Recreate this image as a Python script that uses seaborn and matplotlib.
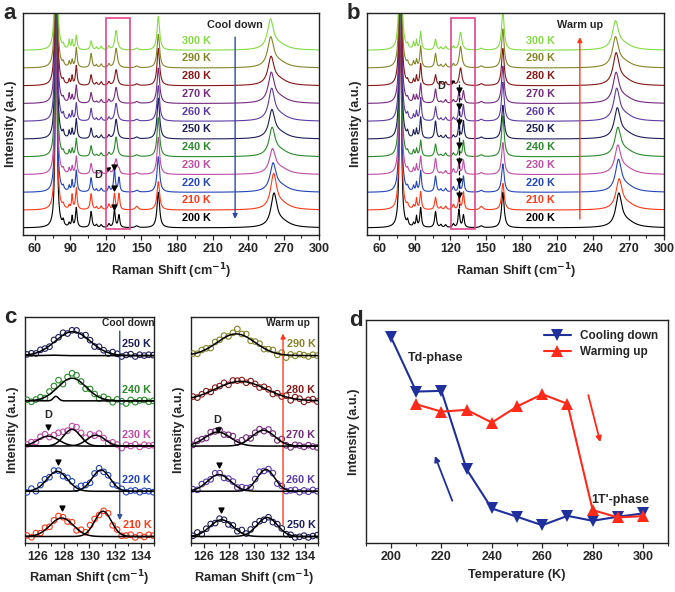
import numpy as np
import pandas as pd
import matplotlib.pyplot as plt
import seaborn as sns
from matplotlib.patches import Rectangle
from matplotlib.ticker import MultipleLocator

sns.set_style("ticks")
plt.rcParams['font.family'] = ['Liberation Sans', 'DejaVu Sans']
plt.rcParams['font.weight'] = 'bold'
plt.rcParams['axes.labelweight'] = 'bold'
plt.rcParams['axes.linewidth'] = 1.0

# ---- data ----
temps = [200, 210, 220, 230, 240, 250, 260, 270, 280, 290, 300]
temp_colors = ['#000000', '#ff3a1a', '#2446b8', '#c04ca6', '#2c8a2c', '#1e1e58',
               '#5b3ca6', '#762a7e', '#861818', '#85852a', '#84dc44']

# Raman modes (cm-1) and half widths
raman_peaks = [78.0, 84.0, 89.0, 91.5, 95.0, 107.5, 112.0, 116.0, 122.5, 127.2, 128.6, 131.0, 146.0, 164.2]
peak_hwhm = [0.8, 0.7, 0.6, 0.6, 0.8, 0.9, 0.8, 0.9, 0.9, 0.8, 1.3, 0.8, 1.5, 1.3]

# peak heights per temperature (a: cool down)
amps_cool = [
    [14, 0.3, 0.2, 0.6, 1.1, 0.9, 0.15, 0.15, 0.2, 1.0, 0.0, 0.7, 0.1, 2.0],
    [14, 0.2, 0.2, 0.8, 1.2, 0.9, 0.15, 0.2, 0.3, 0.9, 0.0, 0.9, 0.2, 1.6],
    [14, 0.2, 0.3, 0.6, 1.2, 0.8, 0.15, 0.2, 0.3, 1.3, 0.0, 0.8, 0.1, 2.0],
    [14, 0.2, 0.3, 0.4, 1.0, 0.6, 0.1, 0.2, 0.3, 0.2, 0.8, 0.2, 0.1, 2.1],
    [14, 0.2, 0.3, 0.4, 1.0, 0.6, 0.1, 0.2, 0.2, 0.0, 1.1, 0.0, 0.1, 2.2],
    [14, 0.3, 0.4, 0.5, 1.1, 0.6, 0.15, 0.2, 0.2, 0.0, 1.1, 0.0, 0.1, 2.3],
    [14, 0.3, 0.3, 0.5, 1.0, 0.7, 0.15, 0.2, 0.2, 0.0, 1.0, 0.0, 0.1, 2.0],
    [14, 0.2, 0.5, 0.4, 1.0, 0.6, 0.1, 0.2, 0.2, 0.0, 0.9, 0.0, 0.1, 2.0],
    [14, 0.2, 0.3, 0.5, 1.1, 0.6, 0.15, 0.2, 0.2, 0.0, 0.9, 0.0, 0.1, 2.1],
    [14, 0.2, 0.3, 0.4, 1.1, 0.8, 0.15, 0.2, 0.2, 0.0, 1.1, 0.0, 0.1, 1.9],
    [14, 0.2, 0.5, 0.5, 0.8, 0.5, 0.15, 0.2, 0.2, 0.0, 1.1, 0.0, 0.1, 1.9],
]
band_center_cool = [261.8, 261.5, 261.0, 260.5, 260.2, 260.0, 259.8, 259.5, 259.3, 259.0, 258.8]
band_amp_cool = [1.8, 1.9, 1.5, 1.3, 1.5, 1.5, 1.7, 1.6, 1.5, 1.6, 1.6]

# peak heights per temperature (b: warm up)
amps_warm = [
    [14, 0.3, 0.2, 0.6, 1.1, 0.9, 0.15, 0.15, 0.2, 1.0, 0.0, 0.7, 0.1, 2.0],
    [14, 0.2, 0.2, 0.6, 1.0, 0.7, 0.15, 0.2, 0.3, 0.7, 0.0, 1.0, 0.2, 1.5],
    [14, 0.2, 0.3, 0.5, 1.2, 0.9, 0.15, 0.2, 0.3, 0.5, 0.0, 0.9, 0.1, 1.6],
    [14, 0.2, 0.3, 0.5, 1.0, 0.9, 0.1, 0.2, 0.3, 0.6, 0.0, 0.8, 0.1, 1.8],
    [14, 0.2, 0.3, 0.4, 0.9, 0.7, 0.1, 0.2, 0.2, 0.5, 0.0, 0.9, 0.1, 2.3],
    [14, 0.3, 0.4, 0.5, 1.2, 1.0, 0.15, 0.2, 0.2, 0.8, 0.0, 1.0, 0.1, 1.9],
    [14, 0.3, 0.3, 0.5, 1.3, 0.8, 0.15, 0.2, 0.2, 0.7, 0.0, 0.9, 0.1, 2.2],
    [14, 0.2, 0.4, 0.4, 1.1, 0.8, 0.1, 0.2, 0.2, 0.6, 0.0, 0.7, 0.1, 2.1],
    [14, 0.2, 0.3, 0.5, 1.2, 0.6, 0.15, 0.2, 0.2, 0.0, 1.0, 0.0, 0.1, 2.1],
    [14, 0.2, 0.3, 0.4, 1.2, 0.8, 0.15, 0.2, 0.2, 0.0, 1.2, 0.0, 0.1, 2.2],
    [14, 0.2, 0.4, 0.5, 1.0, 0.6, 0.15, 0.2, 0.2, 0.0, 1.0, 0.0, 0.1, 2.2],
]
band_center_warm = [261.8, 262.0, 261.5, 261.0, 261.0, 260.5, 260.0, 259.5, 259.5, 259.0, 259.0]
band_amp_warm = [1.8, 1.6, 1.7, 1.5, 1.5, 1.6, 1.7, 1.6, 1.7, 1.6, 1.5]

# panel c: gaussian components (center, height, sigma) and scatter residuals
c_cool_temps = [210, 220, 230, 240, 250]
c_cool_colors = ['#ff3a1a', '#2446b8', '#c04ca6', '#2c8a2c', '#1e1e58']
c_cool_fits = [
    [(127.85, 0.41, 0.9), (131.05, 0.56, 0.65)],
    [(127.5, 0.44, 0.8), (130.9, 0.47, 0.7)],
    [(126.8, 0.22, 0.8), (128.65, 0.37, 0.65), (130.5, 0.24, 0.7)],
    [(127.4, 0.10, 0.2), (128.65, 0.50, 1.1)],
    [(127.0, 0.01, 0.5), (128.7, 0.53, 1.35)],
]
c_cool_resid = [
    [0.02, -0.03, 0.04, 0.00, 0.05, -0.02, 0.03, 0.06, 0.02, -0.03, 0.04, -0.05, 0.03, -0.02, 0.06,
     0.04, -0.03, 0.01, 0.05, -0.04, 0.02, -0.03, 0.01, 0.04, -0.02, 0.03, -0.01, 0.04, 0.02],
    [-0.03, 0.04, -0.05, 0.02, 0.05, -0.02, 0.04, 0.02, -0.04, 0.03, 0.06, -0.03, 0.05, 0.02, -0.04,
     0.03, 0.05, -0.02, 0.01, -0.05, 0.03, 0.02, -0.03, 0.01, 0.02, -0.02, 0.01, 0.00, -0.02],
    [0.01, 0.03, -0.02, 0.04, 0.05, -0.03, 0.02, 0.06, 0.03, -0.02, 0.05, 0.07, 0.02, -0.04, 0.03,
     -0.02, 0.05, 0.01, -0.03, 0.04, 0.02, -0.05, 0.03, 0.00, 0.04, -0.02, 0.03, 0.01, 0.02],
    [0.02, -0.03, 0.01, 0.04, -0.02, 0.06, 0.03, 0.08, -0.04, 0.05, 0.11, 0.09, 0.02, -0.05, 0.04,
     0.01, -0.03, 0.05, 0.02, -0.04, 0.03, -0.01, -0.06, 0.02, -0.03, 0.01, 0.02, -0.02, 0.00],
    [0.01, 0.02, -0.01, 0.03, 0.00, -0.03, 0.04, 0.02, 0.05, -0.02, 0.03, 0.04, -0.03, 0.05, 0.02,
     -0.04, 0.03, 0.01, -0.02, 0.04, 0.02, -0.03, 0.01, 0.03, -0.02, 0.02, 0.00, 0.02, 0.01],
]
c_warm_temps = [250, 260, 270, 280, 290]
c_warm_colors = ['#1e1e58', '#5b3ca6', '#762a7e', '#861818', '#85852a']
c_warm_fits = [
    [(127.4, 0.37, 0.9), (131.0, 0.42, 0.8)],
    [(127.2, 0.37, 0.9), (130.9, 0.48, 0.7)],
    [(127.1, 0.31, 1.0), (130.7, 0.35, 0.9)],
    [(128.9, 0.43, 2.0)],
    [(128.55, 0.48, 1.5)],
]
c_warm_resid = [
    [0.00, 0.05, -0.03, 0.02, 0.04, -0.02, 0.03, 0.01, -0.04, 0.02, -0.03, 0.05, -0.02, 0.03, 0.06,
     0.02, -0.03, 0.01, -0.04, 0.02, 0.03, -0.02, 0.01, -0.03, -0.01, 0.02, -0.02, 0.01, 0.03],
    [0.02, -0.03, 0.04, 0.01, -0.02, 0.05, 0.03, -0.04, 0.02, 0.04, -0.02, 0.03, 0.01, -0.03, 0.04,
     0.06, -0.02, 0.03, 0.05, -0.04, 0.02, -0.03, 0.01, 0.03, -0.02, 0.02, -0.01, 0.03, 0.00],
    [-0.02, 0.03, 0.01, -0.03, 0.04, 0.02, 0.05, -0.02, 0.03, 0.06, -0.04, 0.02, 0.05, -0.03, 0.02,
     0.04, -0.02, 0.05, 0.03, -0.04, 0.06, -0.03, -0.05, 0.02, 0.01, -0.02, 0.02, -0.01, -0.03],
    [0.02, -0.03, 0.01, 0.04, -0.02, 0.03, 0.02, 0.05, -0.03, 0.04, 0.02, 0.03, -0.02, 0.04, 0.01,
     -0.03, 0.03, 0.02, -0.04, 0.02, -0.02, 0.03, -0.05, 0.04, 0.02, -0.04, 0.01, 0.03, -0.02],
    [0.01, -0.02, 0.03, 0.02, -0.03, 0.04, 0.02, 0.05, -0.02, 0.03, 0.11, 0.02, 0.06, -0.03, 0.02,
     0.04, -0.02, 0.03, 0.05, -0.03, 0.04, -0.06, 0.02, -0.01, 0.03, 0.01, -0.02, 0.02, 0.00],
]

# panel d: D-mode intensity vs temperature
cool_T = [200, 210, 220, 230, 240, 250, 260, 270, 280, 290, 300]
cool_I = [92.1, 67.8, 68.1, 32.9, 15.4, 11.7, 7.9, 12.1, 9.9, 11.7, 13.2]
warm_T = [210, 220, 230, 240, 250, 260, 270, 280, 290, 300]
warm_I = [62.1, 58.8, 59.6, 53.9, 61.1, 66.6, 62.3, 14.7, 11.4, 12.0]

BLUE = '#1f2f9c'
RED = '#ff2a1a'
PINK = '#e0478f'


def lorentz(x, c, w, a):
    return a * w ** 2 / ((x - c) ** 2 + w ** 2)


def gauss(x, c, a, s):
    return a * np.exp(-(x - c) ** 2 / (2 * s ** 2))


xs = np.linspace(50, 300, 2500)


def spectra_frame(amps, band_c, band_a):
    frames = []
    for i, T in enumerate(temps):
        y = np.full_like(xs, float(i))
        for c, w, a in zip(raman_peaks, peak_hwhm, amps[i]):
            y += lorentz(xs, c, w, a)
        y += lorentz(xs, band_c[i], 3.0, band_a[i]) + lorentz(xs, band_c[i] + 7, 8.0, 0.3)
        frames.append(pd.DataFrame({'shift': xs, 'intensity': y, 'T': T}))
    return pd.concat(frames, ignore_index=True)


def style_axis(ax, major, minor):
    ax.xaxis.set_major_locator(MultipleLocator(major))
    ax.xaxis.set_minor_locator(MultipleLocator(minor))
    ax.tick_params(axis='x', which='major', direction='out', length=3.5, width=0.9, labelsize=9, pad=2.5)
    ax.tick_params(axis='x', which='minor', direction='out', length=2, width=0.8)
    ax.set_yticks([])
    for s in ax.spines.values():
        s.set_visible(True)
        s.set_color('#222222')


fig = plt.figure(figsize=(6.75, 5.92), dpi=100)
palette = dict(zip(temps, temp_colors))

# ---- panels a and b ----
spec_axes = [fig.add_axes([0.034, 0.603, 0.439, 0.375]), fig.add_axes([0.544, 0.603, 0.440, 0.375])]
spec_sets = [(amps_cool, band_center_cool, band_amp_cool), (amps_warm, band_center_warm, band_amp_warm)]
for ax, (amps, bc, ba) in zip(spec_axes, spec_sets):
    df = spectra_frame(amps, bc, ba)
    sns.lineplot(data=df, x='shift', y='intensity', hue='T', palette=palette, estimator=None,
                 sort=False, legend=False, lw=0.8, ax=ax)
    ax.set_xlim(50, 300)
    ax.set_ylim(-0.4, 12.1)
    style_axis(ax, 30, 15)
    ax.set_xlabel('Raman Shift (cm$^{\\mathbf{-1}}$)', fontsize=9.2, labelpad=4)
    ax.set_ylabel('Intensity (a.u.)', fontsize=9.2, labelpad=4)
    ax.add_patch(Rectangle((120.2, -0.06), 20.2, 11.86, fill=False, ec=PINK, lw=1.2, zorder=5))
    for i, T in enumerate(temps):
        ax.text(184, i + 0.55, f'{T} K', color=temp_colors[i], fontsize=7.8, fontweight='bold',
                ha='left', va='center')

ax = spec_axes[0]
ax.text(229, 11.45, 'Cool down', fontsize=7.8, fontweight='bold', ha='center', va='center')
ax.annotate('', xy=(229, 0.35), xytext=(229, 10.9),
            arrowprops=dict(arrowstyle='-|>', color='#2a4ba0', lw=1.0, mutation_scale=7))
ax.annotate('D', xy=(125.8, 3.45), xytext=(113.5, 3.0), fontsize=7.8, fontweight='bold',
            ha='center', va='center',
            arrowprops=dict(arrowstyle='-|>', color='k', lw=0.9, mutation_scale=6, shrinkA=2, shrinkB=1))
ax.scatter([127.2, 127.2, 127.2], [1.15, 2.25, 3.45], marker='v', s=12, color='k', zorder=6)

ax = spec_axes[1]
ax.text(229, 11.45, 'Warm up', fontsize=7.8, fontweight='bold', ha='center', va='center')
ax.annotate('', xy=(229, 10.9), xytext=(229, 0.35),
            arrowprops=dict(arrowstyle='-|>', color='#ff3a1a', lw=1.0, mutation_scale=7))
ax.plot([127.3, 127.3], [1.1, 8.3], color='k', ls='--', lw=0.9, zorder=6)
tri_y = [i + amps_warm[i][9] + 0.15 for i in range(1, 8)]
ax.scatter([127.3] * len(tri_y), tri_y, marker='v', s=12, color='k', zorder=6)
ax.annotate('D', xy=(125.8, 8.3), xytext=(112, 8.0), fontsize=7.8, fontweight='bold',
            ha='center', va='center',
            arrowprops=dict(arrowstyle='-|>', color='k', lw=0.9, mutation_scale=6, shrinkA=2, shrinkB=1))

# ---- panel c ----
cx = np.arange(125.15, 135.0, 0.35)
fx = np.linspace(125, 135, 400)
c_axes = [fig.add_axes([0.037, 0.083, 0.191, 0.382]), fig.add_axes([0.283, 0.083, 0.188, 0.382])]
c_sets = [(c_cool_temps, c_cool_colors, c_cool_fits, c_cool_resid),
          (c_warm_temps, c_warm_colors, c_warm_fits, c_warm_resid)]
for ax, (ts, cols, fits, resid) in zip(c_axes, c_sets):
    for i, (T, col, comps, res) in enumerate(zip(ts, cols, fits, resid)):
        total = np.full_like(cx[:len(res)], float(i))
        for c, a, s in comps:
            total += gauss(cx[:len(res)], c, a, s)
        sns.scatterplot(x=cx[:len(res)], y=total + np.array(res), marker='o', s=16,
                        facecolor='none', edgecolor=col, linewidth=0.8, ax=ax, zorder=3)
        for c, a, s in comps:
            sns.lineplot(x=fx, y=i + gauss(fx, c, a, s), color='k', lw=1.1, ax=ax, zorder=4)
        ax.text(134.8, i + 0.25, f'{T} K', color=col, fontsize=7.8, fontweight='bold',
                ha='right', va='center', zorder=5)
    ax.set_xlim(125, 135)
    ax.set_ylim(-0.14, 4.86)
    style_axis(ax, 2, 1)
    ax.set_xticks([126, 128, 130, 132, 134])
    ax.set_xlabel('Raman Shift (cm$^{\\mathbf{-1}}$)', fontsize=9.2, labelpad=4)
    ax.set_ylabel('Intensity (a.u.)', fontsize=9.2, labelpad=4)

ax = c_axes[0]
ax.text(133.0, 4.72, 'Cool down', fontsize=7.4, fontweight='bold', ha='center', va='center')
ax.annotate('', xy=(132.35, 0.3), xytext=(132.35, 4.6),
            arrowprops=dict(arrowstyle='-|>', color='#3050a0', lw=1.0, mutation_scale=7))
ax.text(126.8, 2.68, 'D', fontsize=7.8, fontweight='bold', ha='center', va='center')
ax.scatter([126.8, 127.6, 127.9], [2.43, 1.64, 0.62], marker='v', s=12, color='k', zorder=6)

ax = c_axes[1]
ax.text(132.6, 4.72, 'Warm up', fontsize=7.4, fontweight='bold', ha='center', va='center')
ax.annotate('', xy=(132.25, 4.55), xytext=(132.25, 0.2),
            arrowprops=dict(arrowstyle='-|>', color='#ff3a1a', lw=1.0, mutation_scale=7))
ax.text(127.1, 2.58, 'D', fontsize=7.8, fontweight='bold', ha='center', va='center')
ax.scatter([127.1, 127.2, 127.4], [2.36, 1.58, 0.58], marker='v', s=12, color='k', zorder=6)

# ---- panel d ----
axd = fig.add_axes([0.542, 0.083, 0.448, 0.377])
df_d = pd.concat([pd.DataFrame({'T': cool_T, 'I': cool_I, 'run': 'Cooling down'}),
                  pd.DataFrame({'T': warm_T, 'I': warm_I, 'run': 'Warming up'})], ignore_index=True)
sns.lineplot(data=df_d, x='T', y='I', hue='run', style='run',
             markers={'Cooling down': 'v', 'Warming up': '^'}, dashes=False,
             palette={'Cooling down': BLUE, 'Warming up': RED}, markersize=8.5,
             markeredgewidth=0, lw=1.5, ax=axd)
axd.set_xlim(190, 310)
axd.set_ylim(0, 100)
style_axis(axd, 20, 10)
axd.set_xlabel('Temperature (K)', fontsize=9.2, labelpad=4)
axd.set_ylabel('Intensity (a.u.)', fontsize=9.2, labelpad=4)
axd.legend(loc='upper right', frameon=False, fontsize=8.5, handlelength=2.3,
           bbox_to_anchor=(0.995, 0.99), borderaxespad=0.3, labelspacing=0.35)
axd.text(217.5, 82.8, 'Td-phase', fontsize=9, fontweight='bold', ha='center', va='center')
axd.text(290.8, 19.2, "1T'-phase", fontsize=9, fontweight='bold', ha='center', va='center')
axd.annotate('', xy=(217, 40.1), xytext=(224.7, 17.7),
             arrowprops=dict(arrowstyle='-|>', color=BLUE, lw=1.3, mutation_scale=8))
axd.annotate('', xy=(283.3, 43.9), xytext=(278, 67.4),
             arrowprops=dict(arrowstyle='-|>', color=RED, lw=1.3, mutation_scale=8))

# panel letters
for lab, (px, py) in zip('abcd', [(3, 3), (347, 3), (4, 307), (349, 310)]):
    fig.text(px / 675, 1 - py / 592, lab, fontsize=16, fontweight='bold', ha='left', va='top')

fig.savefig('out.png', dpi=100)
